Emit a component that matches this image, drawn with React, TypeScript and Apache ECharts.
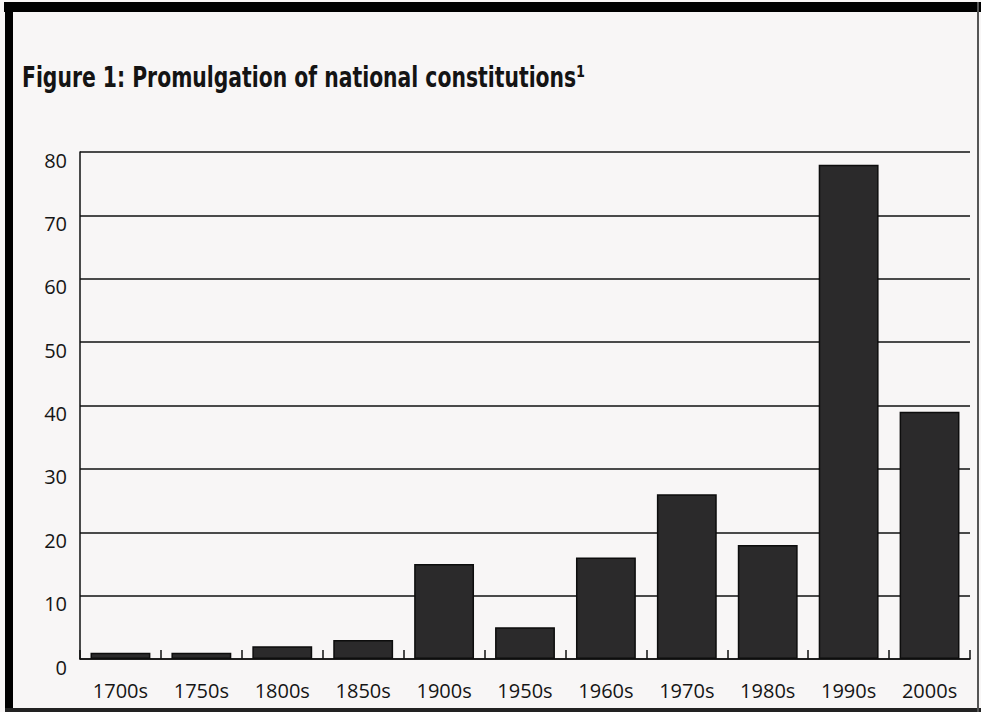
import React, { useEffect, useRef } from "react";
import * as echarts from "echarts";

const decades: string[] = ["1700s", "1750s", "1800s", "1850s", "1900s", "1950s", "1960s", "1970s", "1980s", "1990s", "2000s"];
const constitutions: number[] = [1, 1, 2, 3, 15, 5, 16, 26, 18, 78, 39];
const yTicks = { min: 0, max: 80, interval: 10 };
const titleText = "Figure 1: Promulgation of national constitutions\u00B9";

export default function App() {
  const ref = useRef<HTMLDivElement>(null);
  useEffect(() => {
    if (!ref.current) return;
    const chart = echarts.init(ref.current, null, { renderer: "svg" });
    const labelFont = "'Open Sans', 'Noto Sans', sans-serif";
    chart.setOption({
      animation: false,
      backgroundColor: "#f8f6f6",
      graphic: [
        {
          type: "text",
          x: 22,
          y: 62,
          scaleX: 0.78,
          style: {
            text: titleText,
            fontFamily: "'DejaVu Sans Condensed', 'DejaVu Sans', sans-serif",
            fontWeight: "bold",
            fontSize: 29,
            fill: "#141414",
            verticalAlign: "top",
          },
        },
        { type: "rect", shape: { x: 4, y: 2, width: 977, height: 10 }, style: { fill: "#000" }, z: 100 },
        { type: "rect", shape: { x: 5, y: 2, width: 8, height: 710 }, style: { fill: "#000" }, z: 100 },
        { type: "rect", shape: { x: 5, y: 708, width: 976, height: 4 }, style: { fill: "#222" }, z: 100 },
        { type: "rect", shape: { x: 977, y: 2, width: 2, height: 710 }, style: { fill: "#555" }, z: 100 },
      ],
      grid: { left: 80, right: 11, top: 152, bottom: 53, containLabel: false },
      xAxis: {
        type: "category",
        data: decades,
        axisLine: { show: true, lineStyle: { color: "#111", width: 1.5 } },
        axisTick: { show: true, inside: true, length: 9, alignWithLabel: false, lineStyle: { color: "#111", width: 1.5 } },
        axisLabel: { color: "#151515", fontFamily: labelFont, fontSize: 20, margin: 21 },
        splitLine: { show: false },
      },
      yAxis: {
        type: "value",
        min: yTicks.min,
        max: yTicks.max,
        interval: yTicks.interval,
        axisLine: { show: true, lineStyle: { color: "#111", width: 1.5 } },
        axisTick: { show: false },
        axisLabel: { color: "#151515", fontFamily: labelFont, fontSize: 20, margin: 13, verticalAlign: "top", lineHeight: 16 },
        splitLine: { show: true, lineStyle: { color: "#111", width: 1.5 } },
      },
      series: [
        {
          type: "bar",
          data: constitutions,
          barCategoryGap: "26%",
          itemStyle: { color: "#2b2a2b", borderColor: "#0d0d0d", borderWidth: 1.5 },
          z: 1,
        },
      ],
    });
    return () => chart.dispose();
  }, []);
  return (
    <div
      ref={ref}
      style={{ position: "fixed", left: 0, top: 0, width: 981, height: 712 }}
    />
  );
}
